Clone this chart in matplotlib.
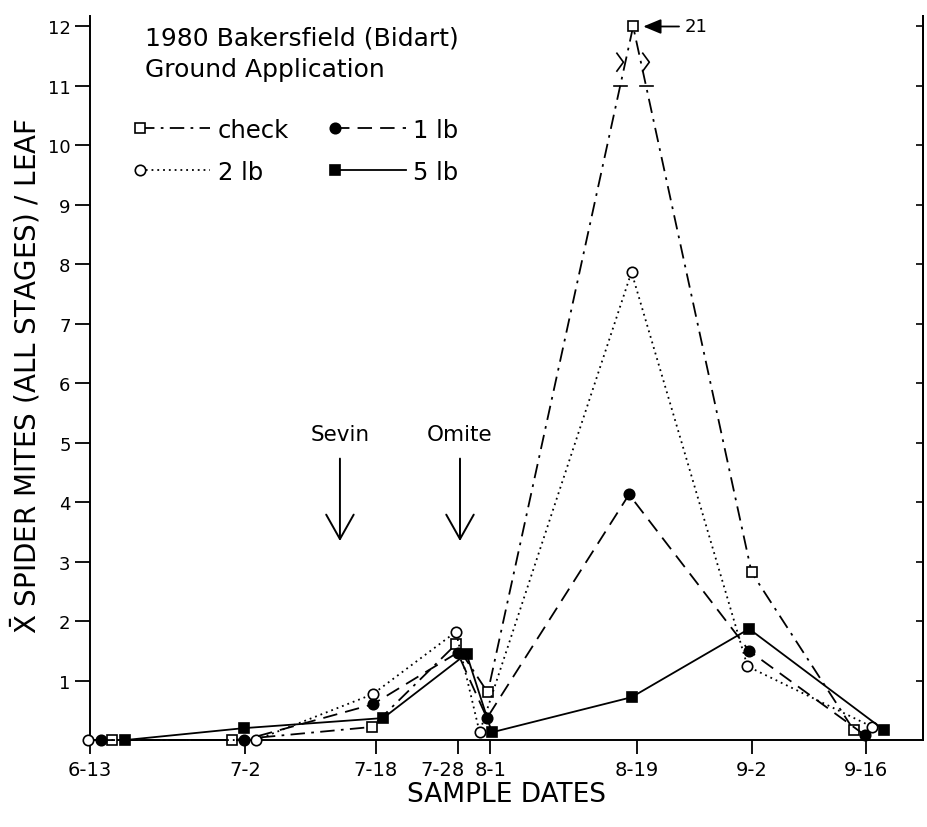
import numpy as np
import matplotlib.pyplot as plt
from matplotlib.legend_handler import HandlerLine2D
from matplotlib.transforms import ScaledTranslation

plt.rcParams['font.family'] = ['DejaVu Sans']
plt.rcParams['mathtext.fontset'] = 'dejavusans'

# sample dates, as days after 6-13
date_labels = ['6-13', '7-2', '7-18', '7-28', '8-1', '8-19', '9-2', '9-16']
date_days = [0, 19, 35, 45, 49, 67, 81, 95]

# plotted x positions (days) - the original nudges overlapping points apart
check_x = [2.7, 17.4, 34.5, 44.8, 48.7, 66.5, 81.0, 93.5]
check_y = [0.0, 0.0, 0.22, 1.61, 0.80, 21.0, 2.82, 0.17]
lb1_x = [1.3, 18.8, 34.6, 45.0, 48.6, 66.0, 80.7, 94.9]
lb1_y = [0.0, 0.0, 0.60, 1.47, 0.37, 4.13, 1.50, 0.08]
lb2_x = [-0.2, 20.3, 34.6, 44.8, 47.7, 66.3, 80.5, 95.8]
lb2_y = [0.0, 0.0, 0.77, 1.82, 0.13, 7.87, 1.24, 0.22]
lb5_x = [4.3, 18.8, 35.9, 46.1, 49.2, 66.3, 80.7, 97.2]
lb5_y = [0.0, 0.20, 0.37, 1.45, 0.13, 0.72, 1.87, 0.17]

y_top = 12  # off-scale values are drawn at the top of the axis
y_break = 11

sprays = [('Sevin', 30.6), ('Omite', 45.3)]


class MarkerAtStart(HandlerLine2D):
    # legend key with the marker at the left end of the line
    def create_artists(self, *args, **kwargs):
        artists = super().create_artists(*args, **kwargs)
        for a in artists:
            a.set_markevery([0])
        return artists


fig = plt.figure(figsize=(9.28, 8.28), dpi=100)
ax = fig.add_axes([0.097, 0.105, 0.8977, 0.874])

lw = 1.3
ms = 7.5
kw = dict(color='black', lw=lw, ms=ms, clip_on=False, mew=1.2)
check_plot = np.minimum(check_y, y_top)
l_check, = ax.plot(check_x, check_plot, ls=(0, (8, 3.5, 1.5, 3.5)),
                   marker='s', mfc='white', label='check', zorder=3, **kw)
l_1, = ax.plot(lb1_x, lb1_y, ls=(0, (8, 4.5)), marker='o', mfc='black',
               label='1 lb', zorder=4, **kw)
l_2, = ax.plot(lb2_x, lb2_y, ls=(0, (1, 2.2)), marker='o', mfc='white',
               label='2 lb', zorder=3, **kw)
l_5, = ax.plot(lb5_x, lb5_y, ls='-', marker='s', mfc='black', label='5 lb',
               zorder=4, **kw)

# axis-break marks on both branches of the off-scale check peak
i_peak = int(np.argmax(check_y))
for j in (i_peak - 1, i_peak + 1):
    xb = np.interp(y_break, sorted([check_plot[j], y_top]),
                   [check_x[j], check_x[i_peak]] if check_plot[j] < y_top else
                   [check_x[i_peak], check_x[j]])
    ax.plot([xb - 0.8, xb + 0.8], [y_break, y_break], color='black', lw=1.2)
    ax.plot([xb - 0.4, xb + 0.4, xb - 0.4], [y_break + 0.25, y_break + 0.4, y_break + 0.55],
            color='black', lw=1.2)

ax.set_xlim(0, 102)
ax.set_ylim(0, 12.17)

ax.set_xticks(date_days)
ax.set_xticklabels(date_labels, fontsize=14)
ax.set_yticks(range(1, 13))
ax.set_yticklabels([str(i) for i in range(1, 13)], fontsize=13)
ax.tick_params(axis='x', direction='out', length=10, width=1.3, pad=4)
ax.tick_params(axis='y', direction='out', length=11, width=1.3, pad=3)
for s in ['left', 'bottom', 'right']:
    ax.spines[s].set_linewidth(1.4)
ax.spines['top'].set_visible(False)

# 7-28 and 8-1 are close together: push 7-28 label to the left
for lab in ax.get_xticklabels():
    if lab.get_text() == '7-28':
        lab.set_horizontalalignment('right')
        lab.set_transform(lab.get_transform() + ScaledTranslation(5 / 72, 0, fig.dpi_scale_trans))

ax2 = ax.twinx()
ax2.set_ylim(ax.get_ylim())
ax2.set_yticks(range(1, 13))
ax2.tick_params(axis='y', direction='in', length=5, width=1.2, labelright=False)
for s in ['left', 'bottom', 'top']:
    ax2.spines[s].set_visible(False)
ax2.spines['right'].set_linewidth(1.4)

ax.set_xlabel('SAMPLE DATES', fontsize=19, labelpad=2)
ax.set_ylabel(r'$\bar{\mathrm{X}}$ SPIDER MITES (ALL STAGES) / LEAF', fontsize=20)
ax.yaxis.set_label_coords(-0.057, 0.505)

ax.text(0.066, 0.971, '1980 Bakersfield (Bidart)', transform=ax.transAxes,
        fontsize=18, va='center', ha='left')
ax.text(0.066, 0.927, 'Ground Application', transform=ax.transAxes,
        fontsize=18, va='center', ha='left')

leg = ax.legend([l_check, l_2, l_1, l_5], ['check', '2 lb', '1 lb', '5 lb'],
                ncol=2, loc='upper left', bbox_to_anchor=(0.06, 0.86),
                frameon=False, fontsize=17.5, numpoints=1, handlelength=2.9,
                handletextpad=0.3, columnspacing=1.9, labelspacing=0.75,
                borderpad=0, borderaxespad=0,
                handler_map={plt.Line2D: MarkerAtStart()})

for name, xd in sprays:
    ax.text(xd, 5.14, name, ha='center', va='center', fontsize=15.5)
    ax.annotate('', xy=(xd, 3.3), xytext=(xd, 4.78),
                arrowprops=dict(arrowstyle='->,head_length=0.8,head_width=0.45',
                                lw=1.4, color='black', mutation_scale=22))

# off-scale peak value of the check plot
ax.annotate(f'{check_y[i_peak]:.0f}', xy=(check_x[i_peak] + 0.9, y_top),
            xytext=(check_x[i_peak] + 6.3, y_top), fontsize=13, va='center',
            arrowprops=dict(arrowstyle='-|>,head_length=0.6,head_width=0.25',
                            lw=1.3, color='black', mutation_scale=18))

fig.savefig('out.png', dpi=100)
